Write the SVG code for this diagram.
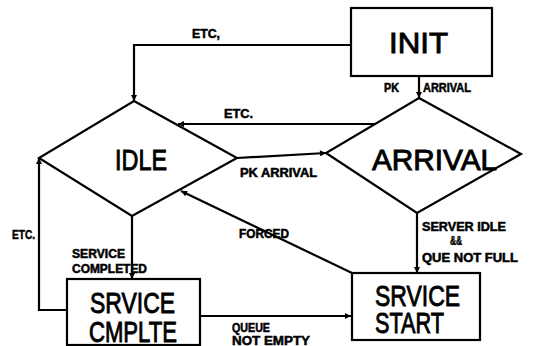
<svg xmlns="http://www.w3.org/2000/svg" width="534" height="346" viewBox="0 0 534 346">
<defs>
<marker id="ah" viewBox="0 0 10 10" refX="10" refY="5" markerWidth="7" markerHeight="6" markerUnits="userSpaceOnUse" orient="auto">
<path d="M0,0 L10,5 L0,10 z" fill="#000"/>
</marker>
<style>
.shape{fill:#fff;stroke:#000;stroke-width:2.2}
.big{font-family:"Liberation Sans",Arial,sans-serif;font-size:29px;fill:#000;stroke:#000;stroke-width:0.9;text-anchor:start}
.edge{fill:none;stroke:#000;stroke-width:2.2;marker-end:url(#ah)}
.lbl{font-family:"Liberation Sans",Arial,sans-serif;font-size:12px;font-weight:bold;fill:#000;stroke:#000;stroke-width:0.5}
</style>
</defs>
<rect width="534" height="346" fill="#fff"/>
<g id="connectors">
<path class="edge" d="M351,45 H134 V101"/>
<path class="edge" d="M419,76 V98"/>
<path class="edge" d="M376,124 H178"/>
<path class="edge" d="M237,158 L326,153"/>
<path class="edge" d="M417,213 V273"/>
<path class="edge" d="M352,273 L181,191"/>
<path class="edge" d="M132,216 V279"/>
<path class="edge" d="M67,310 H39 V158"/>
<path class="edge" d="M200,316 H351"/>
<text class="lbl" x="192" y="38" textLength="28" lengthAdjust="spacingAndGlyphs">ETC,</text>
<text class="lbl" x="384" y="92" textLength="15" lengthAdjust="spacingAndGlyphs">PK</text>
<text class="lbl" x="423" y="92" textLength="48" lengthAdjust="spacingAndGlyphs">ARRIVAL</text>
<text class="lbl" x="224" y="118" textLength="29" lengthAdjust="spacingAndGlyphs">ETC.</text>
<text class="lbl" x="240" y="177" textLength="77" lengthAdjust="spacingAndGlyphs">PK ARRIVAL</text>
<text class="lbl" x="422" y="231" textLength="84" lengthAdjust="spacingAndGlyphs">SERVER IDLE</text>
<text class="lbl" x="450" y="245" textLength="12" lengthAdjust="spacingAndGlyphs">&amp;&amp;</text>
<text class="lbl" x="422" y="262" textLength="96" lengthAdjust="spacingAndGlyphs">QUE NOT FULL</text>
<text class="lbl" x="239" y="238" textLength="50" lengthAdjust="spacingAndGlyphs">FORCED</text>
<text class="lbl" x="72" y="258" textLength="53" lengthAdjust="spacingAndGlyphs">SERVICE</text>
<text class="lbl" x="72" y="273" textLength="75" lengthAdjust="spacingAndGlyphs">COMPLETED</text>
<text class="lbl" x="12" y="239" textLength="23" lengthAdjust="spacingAndGlyphs">ETC.</text>
<text class="lbl" x="232" y="332" textLength="38" lengthAdjust="spacingAndGlyphs">QUEUE</text>
<text class="lbl" x="232" y="345" textLength="78" lengthAdjust="spacingAndGlyphs">NOT EMPTY</text>
</g>
<g id="node-init">
<rect class="shape" x="351" y="8" width="141" height="68"/>
<text class="big" x="389" y="53" textLength="59" lengthAdjust="spacingAndGlyphs">INIT</text>
</g>
<g id="node-idle">
<polygon class="shape" points="134,101 237,158 132,216 39,158"/>
<text class="big" x="115" y="170" textLength="52" lengthAdjust="spacingAndGlyphs">IDLE</text>
</g>
<g id="node-arrival">
<polygon class="shape" points="419,98 521,154 417,213 326,153"/>
<text class="big" x="372" y="170" textLength="125" lengthAdjust="spacingAndGlyphs">ARRIVAL</text>
</g>
<g id="node-srvice-start">
<rect class="shape" x="352" y="273" width="128" height="67"/>
<text class="big" x="375" y="306" textLength="85" lengthAdjust="spacingAndGlyphs">SRVICE</text>
<text class="big" x="375" y="333" textLength="69" lengthAdjust="spacingAndGlyphs">START</text>
</g>
<g id="node-srvice-cmplte">
<rect class="shape" x="67" y="279" width="133" height="66"/>
<text class="big" x="90" y="313" textLength="85" lengthAdjust="spacingAndGlyphs">SRVICE</text>
<text class="big" x="89" y="342" textLength="88" lengthAdjust="spacingAndGlyphs">CMPLTE</text>
</g>
</svg>
